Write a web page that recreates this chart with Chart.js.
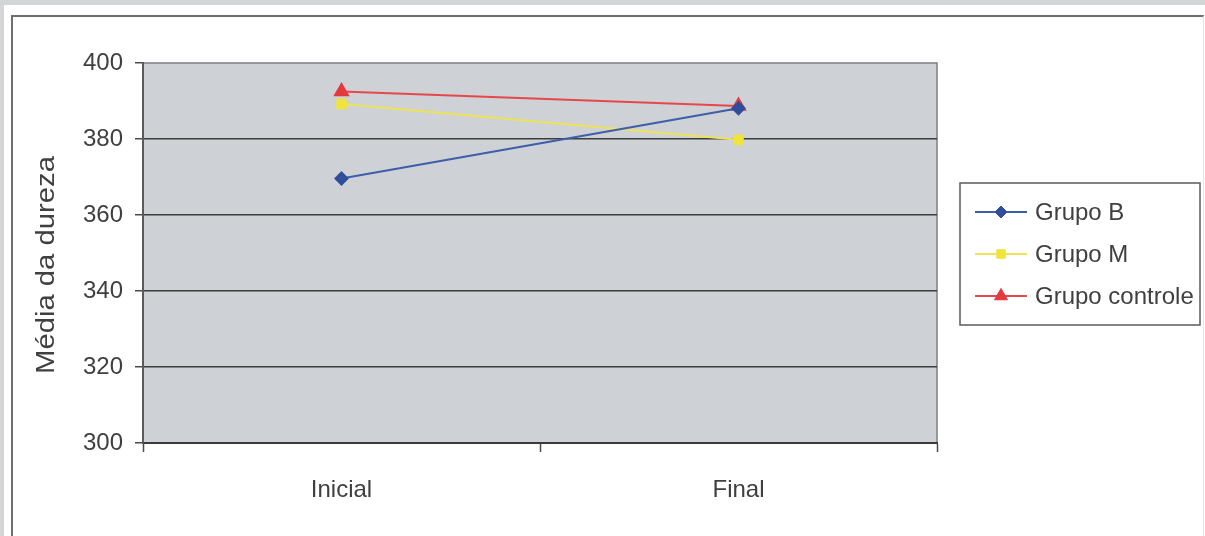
<!DOCTYPE html>
<html>
<head>
<meta charset="utf-8">
<script src="https://cdn.jsdelivr.net/npm/chart.js@4"></script>
<style>
  html, body { margin: 0; padding: 0; }
  body { width: 1205px; height: 536px; background: #d4d5d7; position: relative; overflow: hidden; }
  #sheet { position: absolute; left: 4px; top: 5px; width: 1201px; height: 531px; background: #fff; }
  #frame { position: absolute; left: 11px; top: 15px; width: 1190px; height: 540px;
           border: 2px solid #6e6e6e; border-right: 1px solid #e6e6e6; }
  #wrap { position: absolute; left: 0; top: 0; width: 1205px; height: 536px; }
</style>
</head>
<body>
<div id="sheet"></div>
<div id="frame"></div>
<div id="wrap"><canvas id="c" width="1205" height="536"></canvas></div>
<script>
// Categories and series
const categories = ['Inicial', 'Final'];
const grupoB = [369.6, 388.1];
const grupoM = [389.2, 379.8];
const grupoControle = [392.5, 388.7];
const seriesNames = ['Grupo B', 'Grupo M', 'Grupo controle'];
const yTicks = [300, 320, 340, 360, 380, 400];
const yTitle = 'Média da dureza';

const FONT = '"Liberation Sans", Arial, sans-serif';
const TEXT = '#404040';

// Grey plot background
const plotBg = {
  id: 'plotBg',
  beforeDraw(chart) {
    const {ctx, chartArea: a} = chart;
    ctx.save();
    ctx.fillStyle = '#ced1d5';
    ctx.fillRect(a.left, a.top, a.right - a.left, a.bottom - a.top);
    // frame on top and right edges of the plot
    ctx.strokeStyle = '#7d7f82';
    ctx.lineWidth = 1.5;
    ctx.beginPath();
    ctx.moveTo(a.left, a.top);
    ctx.lineTo(a.right, a.top);
    ctx.lineTo(a.right, a.bottom);
    ctx.stroke();
    ctx.restore();
  }
};

// Rotated y-axis title
const yTitlePlugin = {
  id: 'yTitlePlugin',
  afterDraw(chart) {
    const {ctx} = chart;
    ctx.save();
    ctx.translate(47, 265);
    ctx.rotate(-Math.PI / 2);
    ctx.scale(1.17, 1);
    ctx.font = '25px ' + FONT;
    ctx.fillStyle = TEXT;
    ctx.textAlign = 'center';
    ctx.textBaseline = 'middle';
    ctx.fillText(yTitle, 0, 0);
    ctx.restore();
  }
};

// Boxed legend on the right
const boxLegend = {
  id: 'boxLegend',
  afterDraw(chart) {
    const {ctx} = chart;
    const x0 = 960, y0 = 183, w = 240, h = 142;
    ctx.save();
    ctx.strokeStyle = '#5a5a5a';
    ctx.lineWidth = 1.5;
    ctx.strokeRect(x0, y0, w, h);
    chart.data.datasets.forEach((ds, i) => {
      const cy = 212 + i * 42;
      ctx.strokeStyle = ds.borderColor;
      ctx.lineWidth = 2;
      ctx.beginPath();
      ctx.moveTo(975, cy);
      ctx.lineTo(1027, cy);
      ctx.stroke();
      ctx.fillStyle = ds.pointBackgroundColor;
      ctx.strokeStyle = ds.pointBorderColor;
      ctx.lineWidth = 1;
      Chart.helpers.drawPoint(ctx, {
        pointStyle: ds.pointStyle, radius: ds.pointRadius, borderWidth: 1, rotation: 0
      }, 1001, cy);
      ctx.fillStyle = TEXT;
      ctx.font = '24px ' + FONT;
      ctx.textAlign = 'left';
      ctx.textBaseline = 'middle';
      ctx.fillText(ds.label, 1035, cy + 1);
    });
    ctx.restore();
  }
};

const colors = {
  b: '#2f4e9c',
  m: '#f0e33c',
  c: '#e23a3e'
};

new Chart(document.getElementById('c'), {
  type: 'line',
  data: {
    labels: categories,
    datasets: [
      { label: seriesNames[0], data: grupoB, borderColor: '#3f5ea8', pointBackgroundColor: colors.b,
        pointBorderColor: colors.b, pointStyle: 'rectRot', pointRadius: 6, borderWidth: 2 },
      { label: seriesNames[1], data: grupoM, borderColor: '#ece35a', pointBackgroundColor: colors.m,
        pointBorderColor: colors.m, pointStyle: 'rect', pointRadius: 6, borderWidth: 2 },
      { label: seriesNames[2], data: grupoControle, borderColor: '#e5484c', pointBackgroundColor: colors.c,
        pointBorderColor: colors.c, pointStyle: 'triangle', pointRadius: 7.5, borderWidth: 2 }
    ]
  },
  options: {
    responsive: false,
    animation: false,
    devicePixelRatio: 1,
    layout: { padding: { left: 0, right: 268, top: 63, bottom: 0 } },
    plugins: {
      legend: { display: false },
      tooltip: { enabled: false }
    },
    elements: { line: { tension: 0 } },
    scales: {
      x: {
        type: 'category',
        offset: true,
        afterFit(scale) { scale.height = 93; },
        grid: { offset: true, drawOnChartArea: false, drawTicks: true, tickLength: 9,
                tickColor: '#4a4a4a', tickWidth: 1.5 },
        border: { display: true, color: '#3a3a3a', width: 2 },
        ticks: { color: TEXT, font: { family: FONT, size: 24 }, padding: 24 }
      },
      y: {
        min: 300,
        max: 400,
        afterFit(scale) { scale.width = 143; },
        afterBuildTicks(scale) { scale.ticks = yTicks.map(v => ({ value: v })); },
        grid: { color: (c) => c.tick && c.tick.value === 400 ? 'rgba(0,0,0,0)' : '#3c3c3c',
                lineWidth: 1.5, drawTicks: true, tickLength: 8, tickColor: '#4a4a4a', tickWidth: 1.5 },
        border: { display: true, color: '#5a5a5a', width: 2 },
        ticks: { color: TEXT, font: { family: FONT, size: 24 }, padding: 12 }
      }
    }
  },
  plugins: [plotBg, yTitlePlugin, boxLegend]
});
</script>
</body>
</html>
